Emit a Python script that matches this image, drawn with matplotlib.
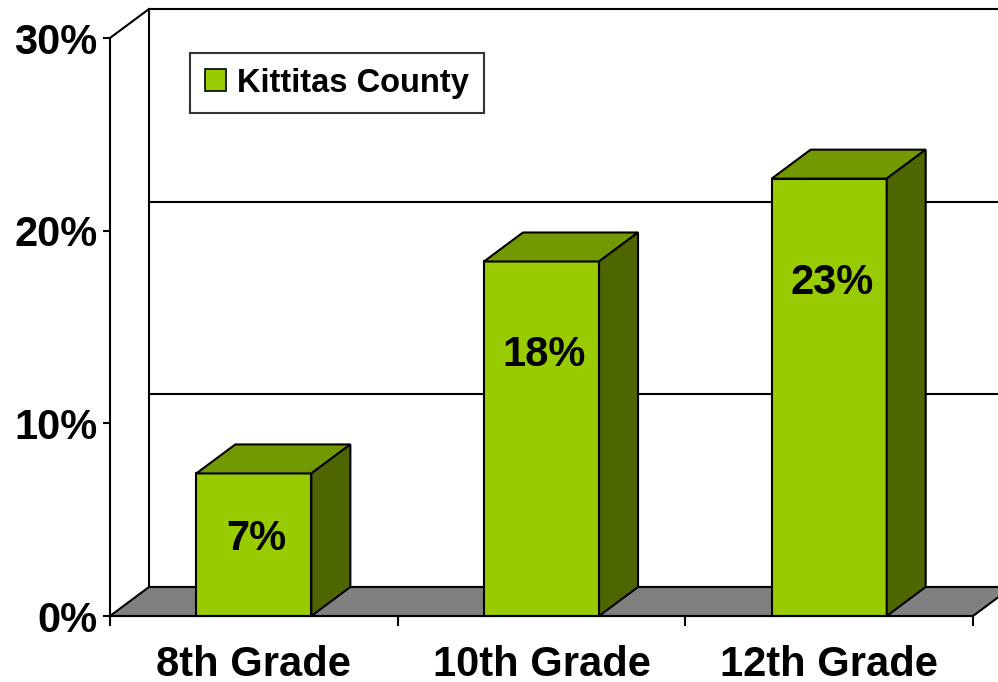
import matplotlib
matplotlib.use("Agg")
import matplotlib.pyplot as plt
from matplotlib.patches import Polygon, Patch

# data
grades = ["8th Grade", "10th Grade", "12th Grade"]
values = [7.4, 18.4, 22.7]
value_labels = ["7%", "18%", "23%"]
y_ticks = [0, 10, 20, 30]
y_tick_labels = ["0%", "10%", "20%", "30%"]
series_name = "Kittitas County"

FRONT = "#99CC00"
TOP = "#739900"
SIDE = "#4D6600"
FLOOR = "#808080"

plt.rcParams["font.family"] = ["Liberation Sans", "DejaVu Sans"]
plt.rcParams["font.weight"] = "bold"

W, H = 998, 682
fig = plt.figure(figsize=(W / 100, H / 100), dpi=100)
ax = fig.add_axes([110 / W, 66 / H, 863 / W, 578 / H])
ax.set_xlim(-0.5, len(grades) - 0.5)
ax.set_ylim(0, 30)

# oblique depth offset, in data units (about 39 px right, 29 px up)
dx = 39 / 287.7
dy = 29 / 19.27
x0, x1 = -0.5, len(grades) - 0.5
lw = 1.5

# back wall + gridlines
ax.add_patch(Polygon([(x0 + dx, dy), (x0 + dx, 30 + dy), (x1 + dx, 30 + dy), (x1 + dx, dy)],
                     closed=True, facecolor="white", edgecolor="black", lw=lw,
                     clip_on=False, zorder=1))
for g in y_ticks[1:-1]:
    ax.plot([x0 + dx, x1 + dx], [g + dy, g + dy], color="black", lw=lw,
            clip_on=False, zorder=1.5)
# side wall top edge
ax.plot([x0, x0 + dx], [30, 30 + dy], color="black", lw=lw, clip_on=False, zorder=1.5)

# floor
ax.add_patch(Polygon([(x0, 0), (x0 + dx, dy), (x1 + dx, dy), (x1, 0)], closed=True,
                     facecolor=FLOOR, edgecolor="black", lw=lw, clip_on=False, zorder=2))

# bars
bw = 0.4
xs = list(range(len(grades)))
ax.bar(xs, values, width=bw, color=FRONT, edgecolor="black", linewidth=lw,
       zorder=3, clip_on=False)
for x, v, lab in zip(xs, values, value_labels):
    l, r = x - bw / 2, x + bw / 2
    ax.add_patch(Polygon([(l, v), (l + dx, v + dy), (r + dx, v + dy), (r, v)], closed=True,
                         facecolor=TOP, edgecolor="black", lw=lw, clip_on=False, zorder=3))
    ax.add_patch(Polygon([(r, 0), (r + dx, dy), (r + dx, v + dy), (r, v)], closed=True,
                         facecolor=SIDE, edgecolor="black", lw=lw, clip_on=False, zorder=3))
    ax.text(x + 0.01, 0.87 * v - 2.45, lab, ha="center", va="center", fontsize=30,
            fontweight="bold", zorder=4)

# axes styling
for s in ["top", "right"]:
    ax.spines[s].set_visible(False)
ax.spines["left"].set_linewidth(lw)
ax.spines["bottom"].set_linewidth(lw)
ax.spines["left"].set_zorder(5)
ax.spines["bottom"].set_zorder(5)
ax.set_facecolor("none")

ax.set_yticks(y_ticks)
ax.set_yticklabels(y_tick_labels)
ax.tick_params(axis="y", direction="out", length=5, width=lw, pad=4, labelsize=30)

ax.set_xticks([x0 + i for i in range(len(grades) + 1)])
ax.set_xticklabels([])
ax.set_xticks(xs, minor=True)
ax.set_xticklabels(grades, minor=True)
ax.tick_params(axis="x", which="major", direction="out", length=7, width=lw)
ax.tick_params(axis="x", which="minor", length=0, pad=21, labelsize=30)

# legend
handle = Patch(facecolor=FRONT, edgecolor="black", lw=1.2)
leg = ax.legend([handle], [series_name], loc="upper left",
                bbox_to_anchor=(190 / W, 1 - 53 / H), bbox_transform=fig.transFigure,
                frameon=True, fancybox=False, fontsize=23.5, handlelength=0.65,
                handleheight=0.65, handletextpad=0.35, borderpad=0.45,
                borderaxespad=0)
leg._legend_box.sep = 0
leg.get_frame().set_edgecolor("black")
leg.get_frame().set_linewidth(lw)
leg.set_zorder(6)

fig.savefig("out.png", dpi=100)
